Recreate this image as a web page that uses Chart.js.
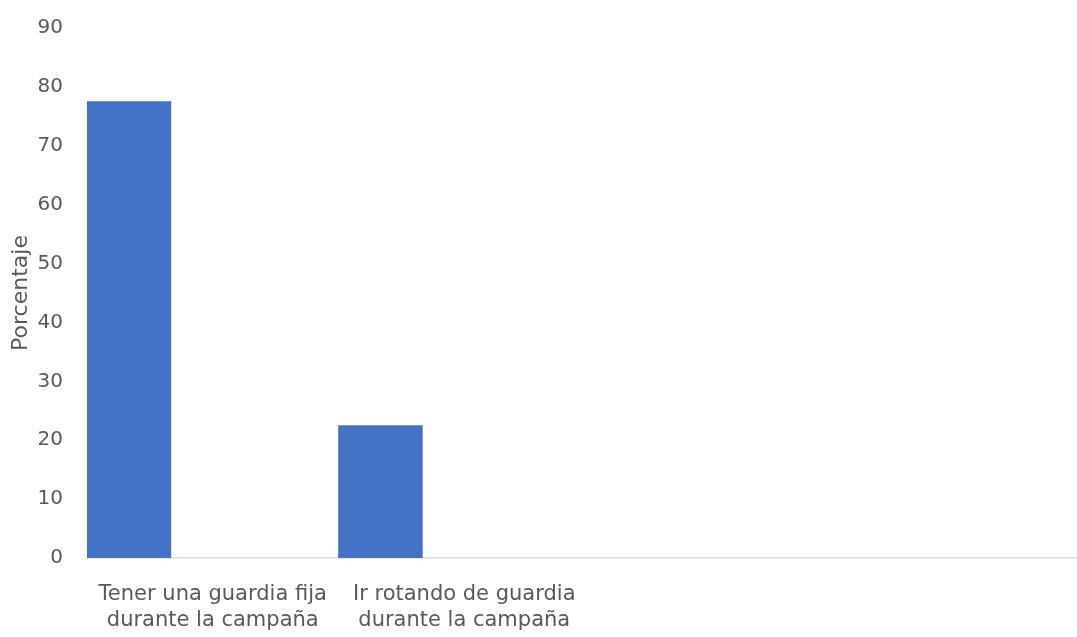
<!DOCTYPE html>
<html>
<head>
<meta charset="utf-8">
<script src="https://cdn.jsdelivr.net/npm/chart.js@4.4.0/dist/chart.umd.min.js"></script>
<style>
  html, body { margin: 0; padding: 0; background: #ffffff; overflow: hidden; }
  #wrap { width: 1100px; height: 637px; position: relative; }
</style>
</head>
<body>
<div id="wrap"><canvas id="c" width="1100" height="637"></canvas></div>
<script>
const categories = [
  ["Tener una guardia fija", "durante la campaña"],
  ["Ir rotando de guardia", "durante la campaña"],
  "",
  ""
];
const porcentaje = [77.5, 22.5, null, null];
const emptySeriesA = [null, null, null, null];
const emptySeriesB = [null, null, null, null];
const yTicks = { min: 0, max: 90, step: 10 };
const yTitle = "Porcentaje";

const FONT = "'DejaVu Sans', sans-serif";
const TXT = "#595959";

new Chart(document.getElementById('c'), {
  type: 'bar',
  data: {
    labels: categories,
    datasets: [
      { label: 'Porcentaje', data: porcentaje, backgroundColor: '#4472C4', borderWidth: 0 },
      { label: 'a', data: emptySeriesA, backgroundColor: '#ED7D31', borderWidth: 0 },
      { label: 'b', data: emptySeriesB, backgroundColor: '#A5A5A5', borderWidth: 0 }
    ]
  },
  options: {
    responsive: false,
    animation: false,
    devicePixelRatio: 1,
    layout: { padding: { top: 28, right: 7, left: 0, bottom: 0 } },
    datasets: { bar: { categoryPercentage: 1.0, barPercentage: 1.0 } },
    plugins: { legend: { display: false }, tooltip: { enabled: false } },
    scales: {
      x: {
        grid: { display: false, drawTicks: false },
        border: { display: true, color: '#D9D9D9', width: 1.5 },
        ticks: {
          color: TXT, font: { family: FONT, size: 21, lineHeight: 1.22 }, padding: 24,
          maxRotation: 0, autoSkip: false
        },
        afterFit: (s) => { s.height = 79; }
      },
      y: {
        min: yTicks.min, max: yTicks.max,
        grid: { display: false, drawTicks: false },
        border: { display: false },
        ticks: { stepSize: yTicks.step, color: TXT, font: { family: FONT, size: 20 }, padding: 24 },
        title: { display: true, text: yTitle, color: TXT, font: { family: FONT, size: 22 }, padding: { top: 8, bottom: 0 } },
        afterFit: (s) => { s.width = 87; s.paddingTop = 0; s.paddingBottom = 0; }
      }
    }
  }
});
</script>
</body>
</html>
